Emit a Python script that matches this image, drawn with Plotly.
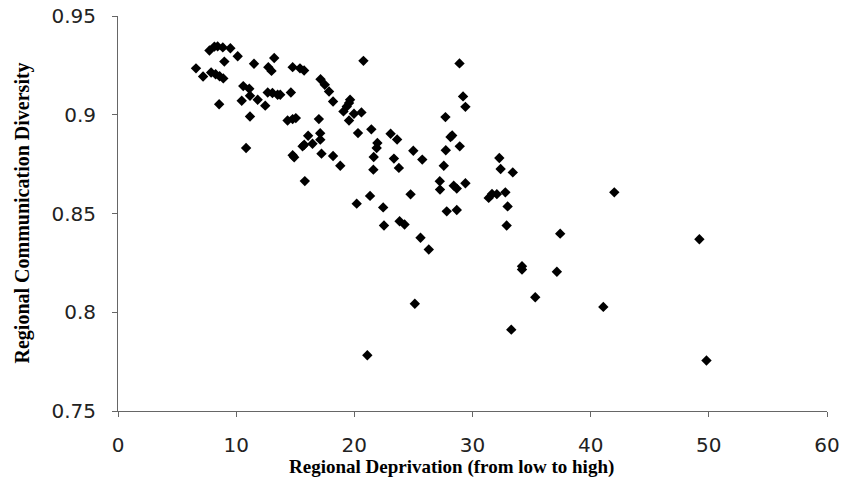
import plotly.graph_objects as go

deprivation = [
    6.6, 7.2, 7.74, 8.16, 8.43, 8.87, 9.51, 10.13, 9.0, 7.88,
    8.26, 8.6, 8.91, 8.56, 10.6, 11.11, 11.17, 10.47, 11.82, 12.46,
    11.17, 10.84, 11.51, 12.72, 12.99, 13.22, 12.67, 13.07, 13.51, 13.73,
    14.63, 14.78, 15.4, 15.75, 14.35, 14.78, 15.05, 14.78, 14.91, 15.62,
    15.76, 16.09, 16.46, 17.0, 17.11, 17.12, 17.22, 18.2, 18.81, 15.81,
    17.14, 17.5, 17.86, 18.2, 19.64, 19.55, 19.36, 19.08, 19.97, 20.6,
    19.55, 20.31, 21.44, 20.77, 23.07, 23.62, 21.95, 21.89, 21.64, 23.35,
    24.99, 25.75, 21.61, 23.77, 20.2, 21.33, 22.44, 22.51, 23.83, 24.25,
    24.76, 25.6, 26.3, 25.12, 21.1, 27.71, 29.2, 29.4, 28.14, 28.28,
    28.92, 27.74, 27.57, 27.23, 27.25, 28.41, 28.67, 29.4, 27.82, 28.67,
    28.9, 32.27, 32.38, 33.41, 31.37, 31.65, 32.06, 32.78, 32.97, 32.89,
    42.0, 37.42, 34.19, 34.19, 37.14, 35.31, 41.07, 33.28, 49.8, 49.2,
]

diversity = [
    0.9235, 0.9194, 0.9325, 0.9345, 0.9346, 0.9341, 0.9337, 0.9296, 0.9269, 0.9214,
    0.9205, 0.9195, 0.9184, 0.9053, 0.9145, 0.9132, 0.9096, 0.9071, 0.9076, 0.9046,
    0.8991, 0.8832, 0.9258, 0.9241, 0.9222, 0.9287, 0.9113, 0.9110, 0.9101, 0.9101,
    0.9113, 0.9241, 0.9235, 0.9224, 0.8971, 0.8978, 0.8983, 0.8795, 0.8785, 0.8840,
    0.8848, 0.8894, 0.8853, 0.8978, 0.8906, 0.8874, 0.8803, 0.8791, 0.8742, 0.8664,
    0.9180, 0.9152, 0.9118, 0.9067, 0.9076, 0.9059, 0.9042, 0.9017, 0.9005, 0.9012,
    0.8971, 0.8907, 0.8926, 0.9273, 0.8904, 0.8875, 0.8857, 0.8832, 0.8786, 0.8778,
    0.8818, 0.8773, 0.8722, 0.8731, 0.8550, 0.8589, 0.8531, 0.8439, 0.8461, 0.8444,
    0.8597, 0.8377, 0.8318, 0.8043, 0.7782, 0.8988, 0.9093, 0.9040, 0.8887, 0.8895,
    0.8840, 0.8820, 0.8742, 0.8663, 0.8621, 0.8641, 0.8626, 0.8653, 0.8511, 0.8518,
    0.9260, 0.8781, 0.8725, 0.8708, 0.8579, 0.8599, 0.8598, 0.8607, 0.8536, 0.8439,
    0.8607, 0.8398, 0.8233, 0.8216, 0.8205, 0.8076, 0.8027, 0.7912, 0.7756, 0.8370,
]

x_ticks = [0, 10, 20, 30, 40, 50, 60]
y_ticks = [0.75, 0.8, 0.85, 0.9, 0.95]
y_tick_text = ["0.75", "0.8", "0.85", "0.9", "0.95"]

x_title = "Regional Deprivation (from low to high)"
y_title = "Regional Communication Diversity"

fig = go.Figure()
fig.add_trace(go.Scatter(
    x=deprivation, y=diversity, mode="markers",
    marker=dict(symbol="diamond", size=8, color="black", line=dict(width=0)),
    showlegend=False,
))

tick_font = dict(family="DejaVu Sans", size=20, color="#222")

fig.update_layout(
    width=841, height=483,
    margin=dict(l=118, r=14, t=16, b=72, autoexpand=False),
    paper_bgcolor="white", plot_bgcolor="white",
    xaxis=dict(
        range=[0, 60], tickvals=x_ticks, showgrid=False, zeroline=False,
        showline=True, linecolor="#666", linewidth=1,
        ticks="outside", ticklen=5, tickcolor="#666",
        tickfont=tick_font, ticklabelstandoff=11, automargin=False,
    ),
    yaxis=dict(
        range=[0.75, 0.95], tickvals=y_ticks, ticktext=y_tick_text, showgrid=False, zeroline=False,
        showline=True, linecolor="#666", linewidth=1,
        ticks="outside", ticklen=5, tickcolor="#666",
        tickfont=tick_font, ticklabelstandoff=12, automargin=False,
    ),
    annotations=[
        dict(text="<b>" + x_title + "</b>", xref="paper", yref="paper",
             x=0.47, y=0, yshift=-56, showarrow=False,
             font=dict(family="Liberation Serif", size=19, color="black"),
             xanchor="center", yanchor="middle"),
        dict(text="<b>" + y_title + "</b>", xref="paper", yref="paper",
             x=0, xshift=-96, y=0.5, showarrow=False,
             font=dict(family="Liberation Serif", size=20, color="black"),
             textangle=-90, xanchor="center", yanchor="middle"),
    ],
)

fig.write_html("out.html",
               config={"displayModeBar": False},
               post_script="document.body.style.margin='0';document.body.style.overflow='hidden';")
